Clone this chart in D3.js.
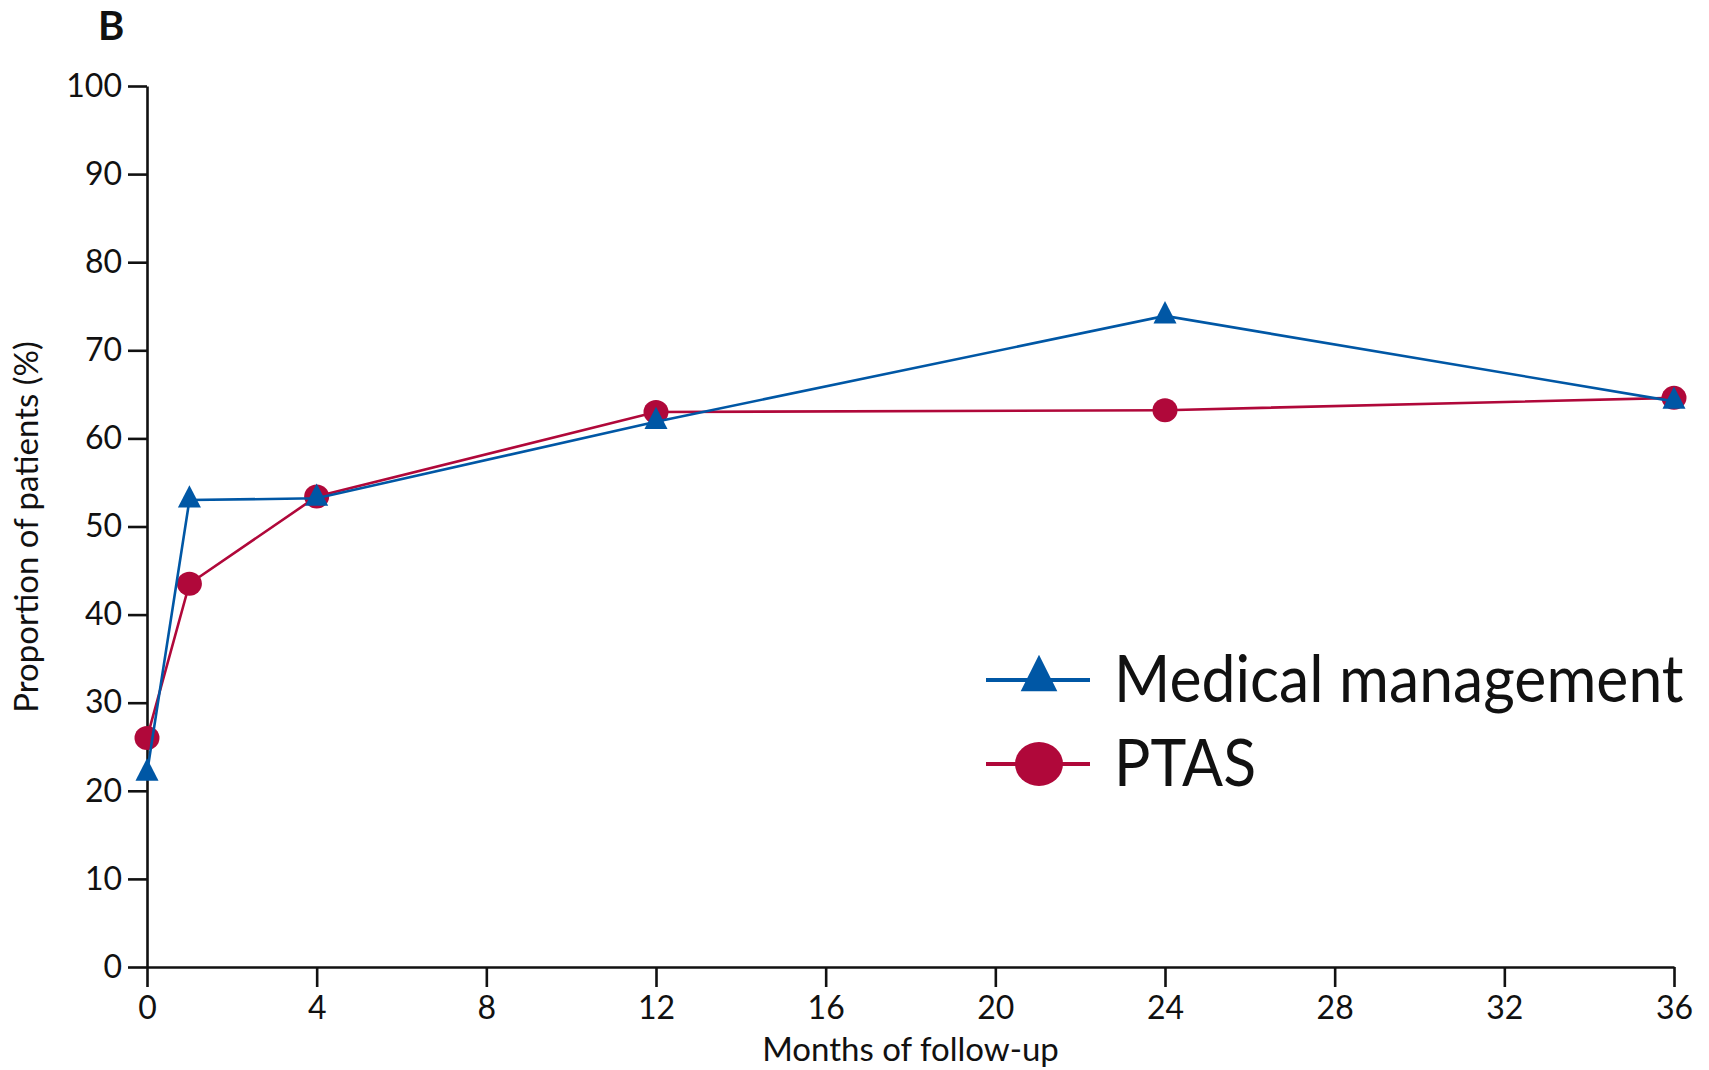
<!DOCTYPE html>
<html>
<head>
<meta charset="utf-8">
<script src="https://cdn.jsdelivr.net/npm/d3@7"></script>
<style>
  body { margin: 0; background: #fff; }
  text { font-family: Lato, "Open Sans", sans-serif; fill: #111; }
</style>
</head>
<body>
<div id="wrapper"></div>
<script>
// data
const months = [0, 1, 4, 12, 24, 36];
const medical = [22, 53, 53.2, 61.9, 73.9, 64.2];
const ptas = [26, 43.5, 53.4, 63.0, 63.2, 64.6];
const xTicks = [0, 4, 8, 12, 16, 20, 24, 28, 32, 36];
const yTicks = [0, 10, 20, 30, 40, 50, 60, 70, 80, 90, 100];
const seriesNames = ["Medical management", "PTAS"];

const blue = "#0057a5";
const red = "#b0083a";

const width = 1709;
const height = 1070;
let dimension = {
    width: width,
    height: height,
    margin: { top: 86, right: 35, bottom: 103, left: 147 },
};
dimension.boundedWidth = dimension.width - dimension.margin.left - dimension.margin.right
dimension.boundedHeight = dimension.height - dimension.margin.top - dimension.margin.bottom

const wrapper = d3.select("#wrapper")
    .append("svg")
    .attr("width", dimension.width)
    .attr("height", dimension.height);

const bounds = wrapper.append("g")
    .attr("transform", `translate(${dimension.margin.left},${dimension.margin.top})`);

const xScaler = d3.scaleLinear()
    .domain([0, 36])
    .range([0, dimension.boundedWidth]);

const yScaler = d3.scaleLinear()
    .domain([0, 100])
    .range([dimension.boundedHeight, 0]);

// axes
const xAxis = bounds.append("g")
    .attr("transform", `translate(0,${dimension.boundedHeight})`)
    .call(d3.axisBottom(xScaler).tickValues(xTicks).tickSize(20).tickSizeOuter(0).tickPadding(9));

const yAxis = bounds.append("g")
    .call(d3.axisLeft(yScaler).tickValues(yTicks).tickSize(19).tickSizeOuter(0).tickPadding(6));

[xAxis, yAxis].forEach(ax => {
    ax.select(".domain").attr("stroke", "#111").attr("stroke-width", 2.6);
    ax.selectAll(".tick line").attr("stroke", "#111").attr("stroke-width", 2.6);
    ax.selectAll(".tick text")
        .attr("font-family", "Lato, 'Open Sans', sans-serif")
        .attr("font-size", 32)
        .attr("fill", "#111");
});

// axis titles
bounds.append("text")
    .attr("x", dimension.boundedWidth / 2)
    .attr("y", dimension.boundedHeight + 94)
    .attr("text-anchor", "middle")
    .attr("font-size", 33)
    .text("Months of follow-up");

bounds.append("text")
    .attr("transform", `translate(${38 - dimension.margin.left},${527 - dimension.margin.top}) rotate(-90)`)
    .attr("text-anchor", "middle")
    .attr("font-size", 33)
    .text("Proportion of patients (%)");

wrapper.append("text")
    .attr("x", 98)
    .attr("y", 40)
    .attr("font-size", 40)
    .attr("font-weight", 700)
    .text("B");

// lines and markers
const lineGen = d3.line()
    .x((d, i) => xScaler(months[i]))
    .y(d => yScaler(d));

bounds.append("path")
    .attr("d", lineGen(ptas))
    .attr("fill", "none")
    .attr("stroke", red)
    .attr("stroke-width", 2.6);

bounds.append("g").selectAll("ellipse")
    .data(ptas)
    .enter()
    .append("ellipse")
    .attr("cx", (d, i) => xScaler(months[i]))
    .attr("cy", d => yScaler(d))
    .attr("rx", 12.5)
    .attr("ry", 12)
    .attr("fill", red);

bounds.append("path")
    .attr("d", lineGen(medical))
    .attr("fill", "none")
    .attr("stroke", blue)
    .attr("stroke-width", 2.6);

const tri = d3.symbol(d3.symbolTriangle, 230);
bounds.append("g").selectAll("path")
    .data(medical)
    .enter()
    .append("path")
    .attr("d", tri)
    .attr("transform", (d, i) => `translate(${xScaler(months[i])},${yScaler(d)}) scale(1,1.12)`)
    .attr("fill", blue);

// legend
const legend = wrapper.append("g");
const legendRows = [
    { name: seriesNames[0], color: blue, y: 680 },
    { name: seriesNames[1], color: red, y: 764 },
];
legendRows.forEach((row, i) => {
    legend.append("line")
        .attr("x1", 986).attr("x2", 1090)
        .attr("y1", row.y).attr("y2", row.y)
        .attr("stroke", row.color)
        .attr("stroke-width", 4);
    if (i == 0) {
        legend.append("path")
            .attr("d", d3.symbol(d3.symbolTriangle, 580)())
            .attr("transform", `translate(1039,${row.y - 1}) scale(1,1.15)`)
            .attr("fill", row.color);
    } else {
        legend.append("ellipse")
            .attr("cx", 1039).attr("cy", row.y)
            .attr("rx", 24).attr("ry", 22)
            .attr("fill", row.color);
    }
    legend.append("text")
        .attr("transform", `translate(1114,${row.y + 22}) scale(0.92,1)`)
        .attr("font-size", 66)
        .text(row.name);
});
</script>
</body>
</html>
